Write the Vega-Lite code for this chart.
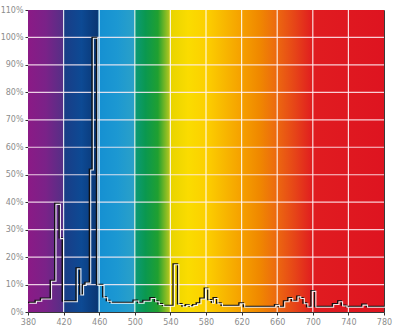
{
  "$schema": "https://vega.github.io/schema/vega-lite/v6.json",
  "width": 356,
  "height": 302,
  "autosize": {"type": "none"},
  "padding": {"left": 28, "top": 10, "right": 16, "bottom": 23},
  "background": "white",
  "config": {
    "view": {"stroke": "#3a3a3a", "strokeWidth": 1},
    "axis": {
      "labelFont": "DejaVu Sans",
      "labelFontSize": 8,
      "labelColor": "#8c8c8c",
      "tickColor": "#333333",
      "tickSize": 3,
      "domain": false,
      "grid": false,
      "title": null
    }
  },
  "datasets": {
    "spectrum": [
      {"nm": 380, "pct": 3.5}, {"nm": 388, "pct": 4.2}, {"nm": 394, "pct": 5.0},
      {"nm": 405, "pct": 11.5}, {"nm": 410, "pct": 39.5}, {"nm": 415, "pct": 27}, {"nm": 418.5, "pct": 4.0},
      {"nm": 434, "pct": 16}, {"nm": 438, "pct": 6.5}, {"nm": 441, "pct": 10}, {"nm": 444, "pct": 10.8},
      {"nm": 449, "pct": 52}, {"nm": 452, "pct": 100}, {"nm": 457, "pct": 10}, {"nm": 464, "pct": 5.5},
      {"nm": 468, "pct": 4.2}, {"nm": 472, "pct": 3.5}, {"nm": 498, "pct": 4.3}, {"nm": 503, "pct": 3.5},
      {"nm": 509, "pct": 4.2}, {"nm": 517, "pct": 5.2}, {"nm": 522, "pct": 4.0}, {"nm": 526, "pct": 3.0},
      {"nm": 531, "pct": 2.4}, {"nm": 543, "pct": 17.5}, {"nm": 548, "pct": 3.0}, {"nm": 553, "pct": 2.2},
      {"nm": 557, "pct": 2.7}, {"nm": 561, "pct": 2.2}, {"nm": 565, "pct": 2.7}, {"nm": 569, "pct": 3.3},
      {"nm": 573, "pct": 5.0}, {"nm": 578, "pct": 8.7}, {"nm": 582, "pct": 4.5}, {"nm": 586, "pct": 3.5},
      {"nm": 588, "pct": 5.2}, {"nm": 592, "pct": 3.3}, {"nm": 597, "pct": 2.4}, {"nm": 617, "pct": 3.3},
      {"nm": 622, "pct": 2.0}, {"nm": 657, "pct": 2.7}, {"nm": 661, "pct": 2.0}, {"nm": 667, "pct": 4.0},
      {"nm": 672, "pct": 5.2}, {"nm": 676, "pct": 4.2}, {"nm": 682, "pct": 5.8}, {"nm": 685, "pct": 5.2},
      {"nm": 689, "pct": 3.3}, {"nm": 693, "pct": 2.0}, {"nm": 698, "pct": 7.8}, {"nm": 702, "pct": 2.0},
      {"nm": 722, "pct": 3.0}, {"nm": 728, "pct": 4.0}, {"nm": 732, "pct": 2.5}, {"nm": 737, "pct": 2.0},
      {"nm": 755, "pct": 2.8}, {"nm": 760, "pct": 2.0}, {"nm": 780, "pct": 2.0}
    ],
    "vgrid": [
      {"nm": 420}, {"nm": 460}, {"nm": 500}, {"nm": 540}, {"nm": 580},
      {"nm": 620}, {"nm": 660}, {"nm": 700}, {"nm": 740}
    ],
    "hgrid": [
      {"pct": 10}, {"pct": 20}, {"pct": 30}, {"pct": 40}, {"pct": 50},
      {"pct": 60}, {"pct": 70}, {"pct": 80}, {"pct": 90}, {"pct": 100}
    ]
  },
  "encoding": {
    "x": {"type": "quantitative", "scale": {"domain": [380, 780], "nice": false},
          "axis": {"values": [380, 420, 460, 500, 540, 580, 620, 660, 700, 740, 780], "labelOverlap": false, "labelPadding": 3, "labelFlush": false}},
    "y": {"type": "quantitative", "scale": {"domain": [0, 110], "nice": false},
          "axis": {"values": [0, 10, 20, 30, 40, 50, 60, 70, 80, 90, 100, 110], "labelExpr": "datum.value + '%'", "labelOverlap": false, "labelPadding": 2, "labelFlush": false}}
  },
  "layer": [
    {
      "data": {"values": [{}]},
      "mark": {
        "type": "rect",
        "color": {
          "gradient": "linear",
          "x1": 0, "y1": 0, "x2": 1, "y2": 0,
          "stops": [
            {"offset": 0.0, "color": "#8b1a86"},
            {"offset": 0.05, "color": "#7a2288"},
            {"offset": 0.0985, "color": "#552f86"},
            {"offset": 0.1, "color": "#1a3c86"},
            {"offset": 0.15, "color": "#0d4a94"},
            {"offset": 0.195, "color": "#0a3674"},
            {"offset": 0.2, "color": "#1590d2"},
            {"offset": 0.25, "color": "#1c98d2"},
            {"offset": 0.297, "color": "#2aa0c8"},
            {"offset": 0.3, "color": "#0c9a78"},
            {"offset": 0.33, "color": "#0a9850"},
            {"offset": 0.365, "color": "#20a030"},
            {"offset": 0.395, "color": "#a8c420"},
            {"offset": 0.4, "color": "#e8d400"},
            {"offset": 0.45, "color": "#fadc00"},
            {"offset": 0.5, "color": "#fcd000"},
            {"offset": 0.55, "color": "#f8b800"},
            {"offset": 0.6, "color": "#f5a000"},
            {"offset": 0.65, "color": "#f08800"},
            {"offset": 0.7, "color": "#ec6810"},
            {"offset": 0.75, "color": "#e64418"},
            {"offset": 0.8, "color": "#e01c20"},
            {"offset": 1.0, "color": "#de1420"}
          ]
        }
      },
      "encoding": {
        "x": {"datum": 380, "type": "quantitative"},
        "x2": {"datum": 780},
        "y": {"datum": 0, "type": "quantitative"},
        "y2": {"datum": 110}
      }
    },
    {
      "data": {"name": "vgrid"},
      "mark": {"type": "rule", "color": "#ffffff", "strokeWidth": 1.2, "opacity": 0.85},
      "encoding": {"x": {"field": "nm", "type": "quantitative"}, "y": null}
    },
    {
      "data": {"name": "hgrid"},
      "mark": {"type": "rule", "color": "#ffeef6", "strokeWidth": 1.2, "opacity": 0.85},
      "encoding": {"y": {"field": "pct", "type": "quantitative"}, "x": null}
    },
    {
      "data": {"name": "spectrum"},
      "mark": {"type": "line", "interpolate": "step-after", "color": "#111111", "strokeWidth": 1.4},
      "encoding": {
        "x": {"field": "nm", "type": "quantitative"},
        "y": {"field": "pct", "type": "quantitative"}
      }
    },
    {
      "data": {"name": "spectrum"},
      "mark": {"type": "line", "interpolate": "step-after", "color": "#ffffff", "strokeWidth": 1.1, "xOffset": 1.3, "yOffset": 0.8, "opacity": 0.9},
      "encoding": {
        "x": {"field": "nm", "type": "quantitative"},
        "y": {"field": "pct", "type": "quantitative"}
      }
    }
  ]
}
